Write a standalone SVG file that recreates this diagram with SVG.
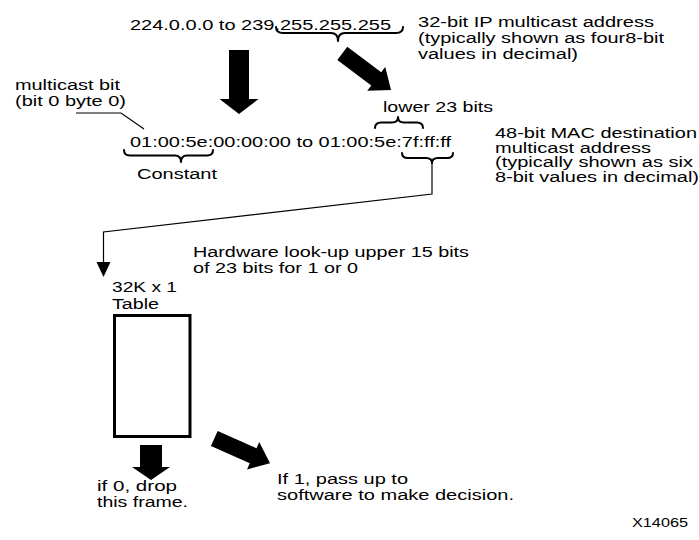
<svg xmlns="http://www.w3.org/2000/svg" width="699" height="540" viewBox="0 0 699 540">
<style>
.t{font-family:"Liberation Sans",Arial,sans-serif;font-size:15.5px;fill:#000}
.m{font-family:"Liberation Sans",Arial,sans-serif;font-size:14px;fill:#000}
.s{font-family:"Liberation Sans",Arial,sans-serif;font-size:12.5px;fill:#000}
.br{fill:none;stroke:#000;stroke-width:2;stroke-linecap:round;stroke-linejoin:round}
.ln{fill:none;stroke:#000;stroke-width:1.2}
.fat{fill:#000;stroke:none}
</style>
<defs>
<polygon id="fatArrow" points="0,-8.25 42.5,-8.25 42.5,-15 61,0 42.5,15 42.5,8.25 0,8.25"/>
</defs>
<rect width="699" height="540" fill="#fff"/>
<g id="ip-range"><text class="t" x="130" y="30" textLength="261" lengthAdjust="spacingAndGlyphs">224.0.0.0 to 239.255.255.255</text></g>
<g id="ip-note">
<text class="t" x="418" y="27" textLength="236" lengthAdjust="spacingAndGlyphs">32-bit IP multicast address</text>
<text class="t" x="418" y="43" textLength="246" lengthAdjust="spacingAndGlyphs">(typically shown as four8-bit</text>
<text class="t" x="418" y="59" textLength="160" lengthAdjust="spacingAndGlyphs">values in decimal)</text>
</g>
<g id="multicast-bit">
<text class="t" x="15" y="90" textLength="105" lengthAdjust="spacingAndGlyphs">multicast bit</text>
<text class="t" x="15" y="106" textLength="111" lengthAdjust="spacingAndGlyphs">(bit 0 byte 0)</text>
</g>
<g id="lower23"><text class="t" x="383" y="111.5" textLength="110" lengthAdjust="spacingAndGlyphs">lower 23 bits</text></g>
<g id="mac-range"><text class="t" x="130" y="147" textLength="321" lengthAdjust="spacingAndGlyphs">01:00:5e:00:00:00 to 01:00:5e:7f:ff:ff</text></g>
<g id="constant"><text class="t" x="137" y="179" textLength="80" lengthAdjust="spacingAndGlyphs">Constant</text></g>
<g id="mac-note">
<text class="m" x="495" y="138" textLength="202" lengthAdjust="spacingAndGlyphs">48-bit MAC destination</text>
<text class="m" x="495" y="152.5" textLength="156" lengthAdjust="spacingAndGlyphs">multicast address</text>
<text class="m" x="495" y="167" textLength="198" lengthAdjust="spacingAndGlyphs">(typically shown as six</text>
<text class="m" x="495" y="181.5" textLength="204" lengthAdjust="spacingAndGlyphs">8-bit values in decimal)</text>
</g>
<g id="hw-note">
<text class="t" x="193" y="257" textLength="276" lengthAdjust="spacingAndGlyphs">Hardware look-up upper 15 bits</text>
<text class="t" x="193" y="273" textLength="165" lengthAdjust="spacingAndGlyphs">of 23 bits for 1 or 0</text>
</g>
<g id="table">
<text class="t" x="112" y="292" textLength="65" lengthAdjust="spacingAndGlyphs">32K x 1</text>
<text class="t" x="112" y="309" textLength="47" lengthAdjust="spacingAndGlyphs">Table</text>
<rect x="114.5" y="315.5" width="75.5" height="121" fill="#fff" stroke="#000" stroke-width="3"/>
</g>
<g id="drop">
<text class="t" x="97" y="491" textLength="80" lengthAdjust="spacingAndGlyphs">if 0, drop</text>
<text class="t" x="97" y="507" textLength="91" lengthAdjust="spacingAndGlyphs">this frame.</text>
</g>
<g id="pass">
<text class="t" x="277" y="484" textLength="131" lengthAdjust="spacingAndGlyphs">If 1, pass up to</text>
<text class="t" x="277" y="500" textLength="237" lengthAdjust="spacingAndGlyphs">software to make decision.</text>
</g>
<g id="figid"><text class="s" x="632" y="527" textLength="56" lengthAdjust="spacingAndGlyphs">X14065</text></g>
<g id="connectors">
<path class="br" d="M276,27 Q276,33 283,33 L331,33 Q338,33 338,41 Q338,33 345,33 L396,33 Q403,33 403,27"/>
<path class="br" d="M124,150 Q124,155.5 130,155.5 L175,155.5 Q181,155.5 181,162 Q181,155.5 187,155.5 L207,155.5 Q213,155.5 213,150"/>
<path class="br" d="M375,128 Q375,122.5 381,122.5 L392,122.5 Q398,122.5 398,117 Q398,122.5 404,122.5 L417,122.5 Q423,122.5 423,128"/>
<path class="br" d="M402,153 Q402,158 408,158 L426,158 Q432,158 432,163 Q432,158 438,158 L447,158 Q453,158 453,153"/>
<polyline class="ln" points="76,113 121,113 144,129"/>
<polyline class="ln" points="432,163 432,194 103.5,232 103.5,263"/>
<polygon class="fat" points="96.5,262 110.5,262 103.5,277"/>
<polygon class="fat" points="229,50 249,50 249,99 258.5,99 239,114 219.5,99 229,99"/>
<polygon class="fat" points="140,445 162,445 162,467 170,467 151,480 132,467 140,467"/>
<use href="#fatArrow" class="fat" transform="translate(342.3,53.3) rotate(37)"/>
<use href="#fatArrow" class="fat" transform="translate(214.3,438.5) rotate(24)"/>
</g>
</svg>
